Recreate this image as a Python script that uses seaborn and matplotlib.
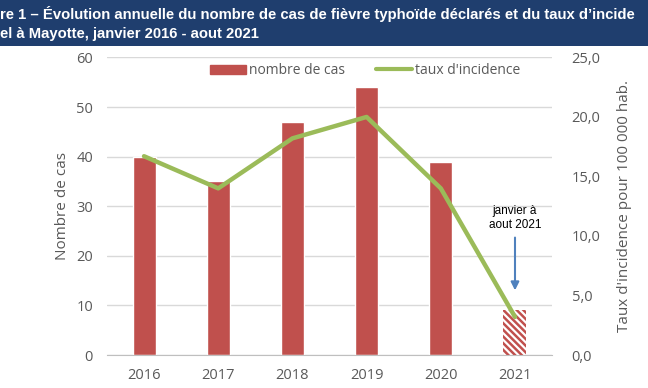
import numpy as np
import pandas as pd
import matplotlib
matplotlib.use("Agg")
import matplotlib.pyplot as plt
import seaborn as sns
from matplotlib.patches import Patch, Rectangle
from matplotlib.lines import Line2D
from matplotlib.ticker import FuncFormatter

# Données
years = ["2016", "2017", "2018", "2019", "2020", "2021"]
cases = [40, 35, 47, 54, 39, 9]
incidence = [16.7, 14.0, 18.2, 20.0, 14.0, 3.2]

# titre tel qu'il apparaît (rogné) sur l'image
title_l1 = "re 1 – Évolution annuelle du nombre de cas de fièvre typhoïde déclarés et du taux d’incide"
title_l2 = "el à Mayotte, janvier 2016 - aout 2021"

sns.set_style("white")
plt.rcParams["font.family"] = ["Open Sans", "DejaVu Sans"]
plt.rcParams["hatch.linewidth"] = 1.8

red = "#C0504D"
green = "#9BBB59"
grey = "#595959"

df = pd.DataFrame({"Year": years, "Cases": cases, "Rate": incidence})

fig = plt.figure(figsize=(6.48, 3.88), dpi=100)
ax = fig.add_axes([0.165, 0.085, 0.687, 0.767])

sns.barplot(x="Year", y="Cases", data=df, color=red, width=0.31,
            saturation=1, ax=ax)

# dernière barre hachurée (année partielle)
last = ax.patches[-1]
last.set_facecolor("white")
last.set_edgecolor(red)
last.set_hatch("\\\\\\\\\\")
last.set_linewidth(0)

ax.set_ylim(0, 60)
ax.set_yticks(range(0, 61, 10))
ax.yaxis.grid(True, color="#D9D9D9", linewidth=1)
ax.set_axisbelow(True)
for s in ["left", "right", "top"]:
    ax.spines[s].set_visible(False)
ax.spines["bottom"].set_color("#BFBFBF")
ax.tick_params(axis="both", length=0, colors=grey, labelsize=10.5)
ax.tick_params(axis="y", pad=10)
ax.tick_params(axis="x", pad=9)
ax.set_xlabel("")
ax.set_ylabel("Nombre de cas", color=grey, fontsize=11)
ax.yaxis.set_label_coords(-0.083, 0.5)
ax.set_xlim(-0.5, 5.5)

ax2 = ax.twinx()
sns.lineplot(x=np.arange(len(years)), y=incidence, color=green, linewidth=3.2,
             ax=ax2)
ax2.set_ylim(0, 25)
ax2.set_yticks(np.arange(0, 26, 5))
ax2.yaxis.set_major_formatter(FuncFormatter(lambda v, p: f"{v:.1f}".replace(".", ",")))
for s in ax2.spines.values():
    s.set_visible(False)
ax2.tick_params(axis="y", length=0, colors=grey, labelsize=10.5, pad=14)
ax2.set_ylabel("Taux d'incidence pour 100 000 hab.", color=grey, fontsize=11,
               labelpad=12)

handles = [Patch(facecolor=red, edgecolor=red),
           Line2D([0], [0], color=green, linewidth=3)]
ax.legend(handles, ["nombre de cas", "taux d'incidence"], ncol=2, frameon=False,
          loc="center", bbox_to_anchor=(0.58, 0.955), fontsize=10,
          labelcolor=grey, handlelength=2.6, handletextpad=0.2, columnspacing=2.2)

# annotation 2021
ax2.annotate("", xy=(5, 5.2), xytext=(5, 10.1),
             arrowprops=dict(arrowstyle="-|>", color="#4F81BD", lw=1.5,
                             mutation_scale=12))
ax2.text(5, 10.4, "janvier à\naout 2021", ha="center", va="bottom",
         fontsize=8.5, family=["Liberation Sans", "DejaVu Sans"], color="black",
         linespacing=1.25)

# bandeau de titre
fig.add_artist(Rectangle((0, 1 - 46 / 388), 1, 46 / 388, transform=fig.transFigure,
                         facecolor="#1F3E6E", edgecolor="none", zorder=0))
fig.text(0.0, 1 - 14 / 388, title_l1, color="white", fontweight="bold",
         fontsize=10.7, va="center", ha="left",
         family=["Liberation Sans", "DejaVu Sans"])
fig.text(0.0, 1 - 34 / 388, title_l2, color="white", fontweight="bold",
         fontsize=10.7, va="center", ha="left",
         family=["Liberation Sans", "DejaVu Sans"])

fig.savefig("out.png", dpi=100)
